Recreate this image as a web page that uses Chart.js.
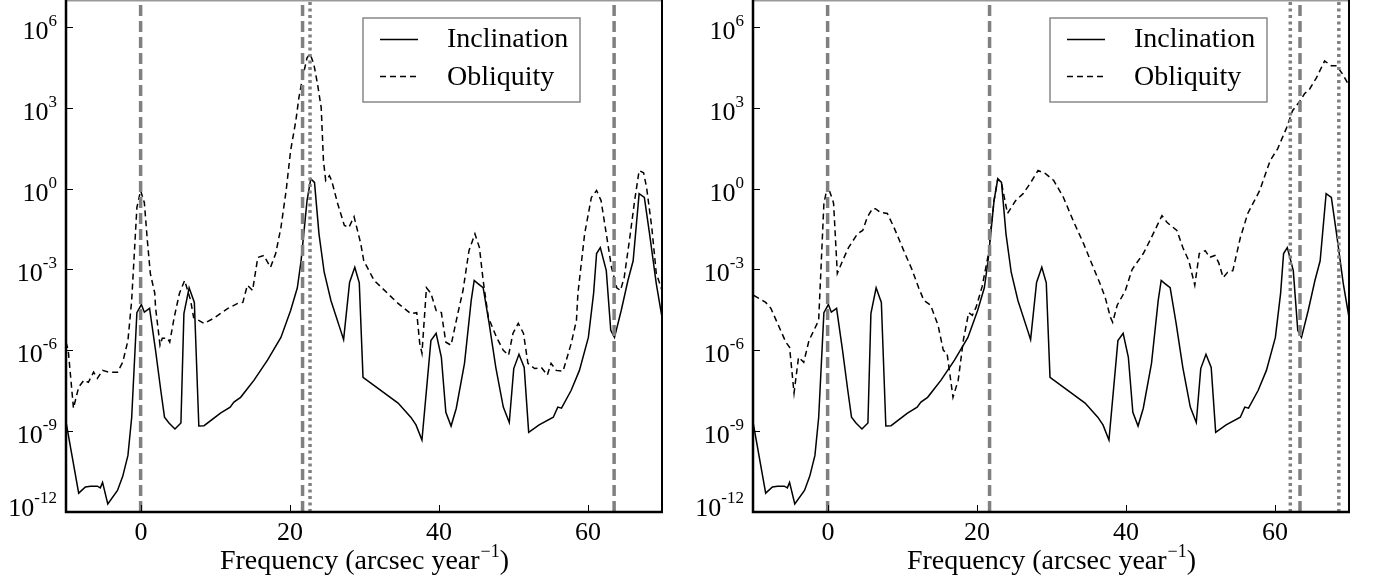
<!DOCTYPE html>
<html>
<head>
<meta charset="utf-8">
<script src="https://cdn.jsdelivr.net/npm/chart.js@4.4.0/dist/chart.umd.min.js"></script>
<style>
  body { margin:0; background:#fff; width:1380px; height:586px; overflow:hidden; position:relative; }
  canvas { position:absolute; top:0; }
  #left { left:0; }
  #right { left:687px; }
</style>
</head>
<body>
<canvas id="left" width="690" height="586"></canvas>
<canvas id="right" width="690" height="586"></canvas>
<script>
// inclination spectrum (same in both panels)
const incFreq = [-10, -8.3, -7.4, -6.7, -5.8, -5.4, -5.1, -4.4, -3.1, -2.4, -1.7, -1.2, -0.5, 0.1, 0.5, 1.2,
  2.0, 2.7, 3.2, 3.8, 4.6, 5.4, 5.8, 6.5, 7.2, 7.8, 8.5, 10.7, 12, 12.5, 13.4, 15.2, 17, 18.8, 20.1, 21.0, 21.5,
  22.3, 22.8, 23.3, 23.9, 24.6, 25.5, 26.8, 27.2, 28.0, 28.7, 29.3, 29.8, 34.5, 36.2, 36.9, 37.7, 38.9, 39.6,
  40.3, 40.9, 41.6, 42.3, 43.4, 44.3, 44.7, 45.2, 45.9, 46.7, 47.6, 48.6, 49.4, 50.0, 50.7, 51.4, 52.0, 53.4,
  55.3, 55.9, 56.4, 57.7, 58.8, 60.0, 60.7, 61.1, 61.6, 62.4, 63.0, 63.5, 64.4, 65.3, 66.0, 66.8, 67.5, 68.2,
  69.1, 70.0];
const incAmp = [2.2e-9, 5.0e-12, 8.5e-12, 9.1e-12, 9.1e-12, 7.9e-12, 1.26e-11, 2.0e-12, 6.3e-12, 2.1e-11, 1.26e-10,
  3.2e-9, 2.5e-5, 5.0e-5, 2.6e-5, 3.6e-5,
  1e-6, 3.3e-8, 3.3e-9, 2.0e-9, 1.2e-9, 2.0e-9, 2.3e-5, 2.1e-4, 6.0e-5, 1.55e-9, 1.6e-9, 4.7e-9, 7.8e-9, 1.2e-8,
  1.8e-8, 7.8e-8, 4.3e-7, 3.0e-6, 3.0e-5, 2.1e-4, 2.1e-3,
  0.36, 2.3, 1.7, 0.021, 7.9e-4, 7.1e-5, 5.5e-6, 2.5e-6, 3.3e-4, 1.2e-3, 3.2e-4, 1e-7, 1.1e-8, 3.3e-9, 1.7e-9,
  4.7e-10, 2.3e-6, 4.3e-6,
  5.5e-7, 5e-9, 1.55e-9, 7.1e-9, 3.3e-7, 7.1e-5, 3.9e-4, 3.0e-4, 2.1e-4, 1e-5, 2.3e-7, 7.8e-9, 2.1e-9, 2.1e-7,
  7.1e-7, 2.3e-7, 9.1e-10, 1.7e-9,
  3.3e-9, 7.8e-9, 7.1e-9, 3.3e-8, 1.8e-7, 3e-6, 1.3e-4, 3.9e-3, 6.5e-3, 9.1e-4, 5.5e-6, 3e-6, 3e-5, 3.9e-4,
  2.1e-3, 0.65, 0.47, 0.021,
  3.0e-4, 1e-5];

// obliquity spectrum, left panel
const oblFreqA = [-10, -9.7, -9.0, -8.3, -7.6, -7.0, -6.3, -5.8, -5.1, -4.3, -3.1, -2.4, -1.7, -1.2, -0.9, -0.5,
  0.0, 0.5, 0.9, 1.3, 1.9, 2.0, 2.6, 2.9, 3.6, 3.9, 4.5, 5.2, 5.9, 6.7, 7.1, 8.5, 9.8, 11.7, 13.0, 13.7, 14.3,
  15.0, 15.7, 16.5, 17.4, 18.1, 18.8, 19.5, 20.1, 20.8, 21.2, 21.7, 22.3, 22.7, 23.2, 23.7, 24.2, 24.5, 24.8,
  25.3, 25.6, 26.4, 27.3, 27.9, 28.6, 29.5, 29.9, 31.3, 34.5, 36.2, 37.0, 37.4, 37.7, 38.3, 38.9, 39.6, 40.3,
  40.9, 41.6, 42.5, 43.2, 44.0, 44.8, 45.4, 45.9, 46.6, 47.7, 48.6, 49.3, 49.9, 50.6, 51.3, 51.9, 52.8, 53.7,
  54.5, 55.0, 55.7, 56.6, 57.7, 58.4, 58.6, 59.5, 60.4, 61.1, 61.7, 62.4, 63.1, 63.8, 64.3, 64.8, 65.5, 66.2,
  66.8, 67.4, 67.8, 68.5, 69.1, 70.0];
const oblAmpA = [2.0e-6, 1e-6, 7.1e-9, 4.3e-8, 7.8e-8, 6.5e-8, 1.55e-7, 9.1e-8, 1.8e-7, 1.55e-7, 1.55e-7, 3.6e-7,
  2.3e-6, 7.1e-5, 2.1e-3, 0.2,
  0.85, 0.3, 0.012, 7.1e-4, 1.3e-4, 3.9e-5, 1.55e-6, 2.8e-6, 2.8e-6, 2.0e-6, 1.66e-5, 1.3e-4, 3.9e-4, 7.1e-5,
  1.66e-5, 1e-5, 1.55e-5, 3.6e-5, 5.5e-5, 6.0e-5, 2.6e-4,
  1.66e-4, 2.8e-3, 3.3e-3, 1.2e-3, 3.9e-3, 0.036, 0.85, 26, 330, 2300, 1.3e4, 7.1e4, 1.0e5, 4.3e4, 7.8e3, 1000,
  11, 2.0,
  3.0, 2.0, 0.28, 0.043, 0.036, 0.091, 9.1e-3, 2.1e-3, 3.9e-4, 5.5e-5, 2.3e-5, 2.5e-5, 1.8e-6, 7.8e-7, 2.1e-4,
  1.3e-4, 3.0e-5, 2.5e-5,
  2.0e-6, 1.55e-6, 2.3e-5, 1.66e-4, 5.0e-3, 0.021, 6.5e-3, 3.9e-4, 1.66e-5, 3e-6, 1e-6, 6.5e-7, 4.3e-6, 1e-5,
  4.3e-6, 3.3e-7, 2.1e-7, 2.3e-7,
  1.2e-7, 3.3e-7, 1.8e-7, 1.66e-7, 1.8e-6, 1.3e-5, 1.3e-4, 0.021, 0.47, 0.85, 0.36, 0.021, 1.2e-3, 2.1e-4,
  1.66e-4, 5.0e-4, 0.012, 0.36,
  4.7, 3.9, 1.1, 0.036, 7.1e-4, 1.3e-4];

// obliquity spectrum, right panel
const oblFreqB = [-9.9, -8.3, -7.6, -5.6, -5.1, -4.5, -3.9, -3.2, -2.5, -1.2, -0.5, 0.0, 0.7, 0.8, 1.3, 2.0, 2.8,
  4.0, 4.7, 5.3, 6.0, 6.4, 7.1, 8.0, 8.9, 10.2, 11.3, 12.2, 12.9, 13.8, 14.8, 15.5, 16.0, 16.8, 17.5, 18.2, 18.9,
  19.4, 19.9, 20.7, 21.5, 22.3, 22.8, 23.3, 24.1, 25.2, 26.2, 27.2, 28.2, 29.2, 30.3, 31.6, 32.9, 34.3, 35.6,
  36.5, 37.2, 37.9, 38.2, 38.8, 39.9, 40.8, 42.3, 43.2, 44.8, 45.5, 46.8, 47.6, 48.4, 49.2, 49.8, 50.6, 51.2,
  51.9, 52.4, 53.0, 53.6, 54.3, 55.3, 56.3, 57.9, 59.3, 60.3, 61.5, 62.3, 63.3, 63.9, 64.6, 65.5, 66.6, 67.5,
  68.2, 69.0, 69.9];
const oblAmpB = [1.1e-4, 6.0e-5, 3.6e-5, 2.0e-6, 1.3e-6, 2.6e-8, 5.5e-7, 3.6e-7, 2.3e-6, 1.3e-5, 0.28, 1.3, 0.36,
  0.28, 7.1e-4, 2.1e-3, 6.5e-3,
  0.021, 0.028, 0.085, 0.18, 0.18, 0.13, 0.12, 0.036, 5.0e-3, 1e-3, 2.1e-4, 7.1e-5, 4.7e-5, 8.5e-6, 1e-6, 7.9e-7,
  1.8e-8, 7.8e-8, 2.5e-6, 2.5e-5,
  2.0e-5, 4.0e-5, 2.3e-4, 3.2e-3, 0.36, 2.3, 1.6, 0.12, 0.36, 0.65, 1.66, 4.7, 3.6, 2.0, 0.47, 0.065, 9.1e-3,
  1.2e-3,
  3.0e-4, 9.1e-5, 1.66e-5, 1.1e-5, 4.7e-5, 1.66e-4, 1e-3, 3.9e-3, 0.012, 0.1, 0.055, 0.028, 6.5e-3, 2.1e-3,
  2.6e-4, 3.9e-3, 5.0e-3, 2.8e-3,
  3.3e-3, 1.8e-3, 5e-4, 7.8e-4, 9.1e-4, 0.015, 0.12, 0.85, 11, 30, 180, 780, 1800, 3300, 5000, 1.3e4, 5.5e4, 3.6e4,
  3.6e4, 1.8e4, 6.5e3];

// reference frequencies (vertical lines)
const dashedA = [0, 21.7, 63.45];
const dottedA = [22.7];
const dashedB = [0, 21.7, 63.3];
const dottedB = [62.0, 68.5];

const xTickVals = [0, 20, 40, 60];
const yTickExps = [-12, -9, -6, -3, 0, 3, 6];
const seriesNames = ['Inclination', 'Obliquity'];
const xTitle = 'Frequency (arcsec year';
const xTitleSup = '\u22121';

const FONT = '"Liberation Serif", "DejaVu Serif", serif';

function pts(xs, ys) {
  return xs.map((x, i) => ({x: x, y: ys[i]}));
}

function vline(f, dash) {
  return {
    data: [{x: f, y: 1e-12}, {x: f, y: 1e7}],
    borderColor: '#808080', borderWidth: 3.5, borderDash: dash, order: 0
  };
}

const frame = {
  id: 'frame',
  afterDraw(chart) {
    const ctx = chart.ctx, a = chart.chartArea;
    const x = chart.scales.x, y = chart.scales.y;
    ctx.save();
    ctx.setLineDash([]);
    // spines
    ctx.strokeStyle = '#999';
    ctx.lineWidth = 1.5;
    ctx.beginPath(); ctx.moveTo(a.left, a.top + 0.75); ctx.lineTo(a.right, a.top + 0.75); ctx.stroke();
    ctx.strokeStyle = '#000';
    ctx.lineWidth = 2;
    ctx.beginPath(); ctx.moveTo(a.right - 1, a.top); ctx.lineTo(a.right - 1, a.bottom); ctx.stroke();
    ctx.lineWidth = 2.5;
    ctx.beginPath(); ctx.moveTo(a.left, a.top); ctx.lineTo(a.left, a.bottom); ctx.lineTo(a.right, a.bottom); ctx.stroke();

    // ticks + labels
    ctx.lineWidth = 1;
    ctx.fillStyle = '#000';
    yTickExps.forEach(e => {
      const py = Math.round(y.getPixelForValue(Math.pow(10, e)));
      ctx.beginPath(); ctx.moveTo(a.left, py + 0.5); ctx.lineTo(a.left + 7, py + 0.5); ctx.stroke();
      const exp = e < 0 ? '-' + (-e) : String(e);
      ctx.font = '17px ' + FONT;
      const ew = ctx.measureText(exp).width;
      ctx.font = '26px ' + FONT;
      const bw = ctx.measureText('10').width;
      const right = a.left - 9;
      const base = (e === yTickExps[0]) ? py + 4 : py + 12;
      ctx.textAlign = 'left';
      ctx.textBaseline = 'alphabetic';
      ctx.fillText('10', right - ew - bw, base);
      ctx.font = '17px ' + FONT;
      ctx.fillText(exp, right - ew, base - 13);
    });
    xTickVals.forEach(v => {
      const px = Math.round(x.getPixelForValue(v));
      ctx.beginPath(); ctx.moveTo(px + 0.5, a.bottom); ctx.lineTo(px + 0.5, a.bottom - 7); ctx.stroke();
      ctx.font = '26px ' + FONT;
      ctx.textAlign = 'center';
      ctx.fillText(String(v), px, a.bottom + 28);
    });

    // axis title
    ctx.font = '28px ' + FONT;
    ctx.textAlign = 'left';
    const w1 = ctx.measureText(xTitle).width;
    const w3 = ctx.measureText(')').width;
    ctx.font = '18px ' + FONT;
    const w2 = ctx.measureText(xTitleSup).width;
    let sx = (a.left + a.right) / 2 - (w1 + w2 + w3 + 1) / 2;
    const tb = a.bottom + 57;
    ctx.font = '28px ' + FONT;
    ctx.fillText(xTitle, sx, tb);
    ctx.font = '18px ' + FONT;
    ctx.fillText(xTitleSup, sx + w1 + 1, tb - 12);
    ctx.font = '28px ' + FONT;
    ctx.fillText(')', sx + w1 + w2 + 1, tb);

    // legend
    const bl = a.right - 300, br = a.right - 83, bt = 18, bb = 102;
    ctx.fillStyle = '#fff';
    ctx.fillRect(bl, bt, br - bl, bb - bt);
    ctx.strokeStyle = '#888';
    ctx.lineWidth = 1.5;
    ctx.strokeRect(bl, bt, br - bl, bb - bt);
    ctx.strokeStyle = '#000';
    ctx.lineWidth = 1.5;
    ctx.beginPath(); ctx.moveTo(bl + 17, 39.5); ctx.lineTo(bl + 55, 39.5); ctx.stroke();
    ctx.setLineDash([6, 4]);
    ctx.beginPath(); ctx.moveTo(bl + 17, 76.5); ctx.lineTo(bl + 55, 76.5); ctx.stroke();
    ctx.setLineDash([]);
    ctx.fillStyle = '#000';
    ctx.font = '28px ' + FONT;
    ctx.fillText(seriesNames[0], bl + 84, 47);
    ctx.fillText(seriesNames[1], bl + 84, 85);
    ctx.restore();
  }
};

function makeChart(id, oblF, oblA, dashed, dotted, padL, padR) {
  const datasets = [];
  dashed.forEach(f => datasets.push(vline(f, [11, 5])));
  dotted.forEach(f => datasets.push(vline(f, [3, 3.5])));
  datasets.push({label: seriesNames[1], data: pts(oblF, oblA), borderColor: '#000', borderWidth: 1.5,
    borderDash: [6, 4], order: 1});
  datasets.push({label: seriesNames[0], data: pts(incFreq, incAmp), borderColor: '#000', borderWidth: 1.5, order: 1});
  return new Chart(document.getElementById(id), {
    type: 'line',
    data: {datasets: datasets},
    options: {
      responsive: false,
      animation: false,
      devicePixelRatio: 1,
      layout: {padding: {left: padL, right: padR, top: 0, bottom: 74}},
      elements: {point: {radius: 0}, line: {tension: 0}},
      scales: {
        x: {type: 'linear', min: -10, max: 70, display: false},
        y: {type: 'logarithmic', min: 1e-12, max: 1e7, display: false}
      },
      plugins: {legend: {display: false}, tooltip: {enabled: false}}
    },
    plugins: [frame]
  });
}

makeChart('left', oblFreqA, oblAmpA, dashedA, dottedA, 66, 27);
makeChart('right', oblFreqB, oblAmpB, dashedB, dottedB, 66, 27);
</script>
</body>
</html>
